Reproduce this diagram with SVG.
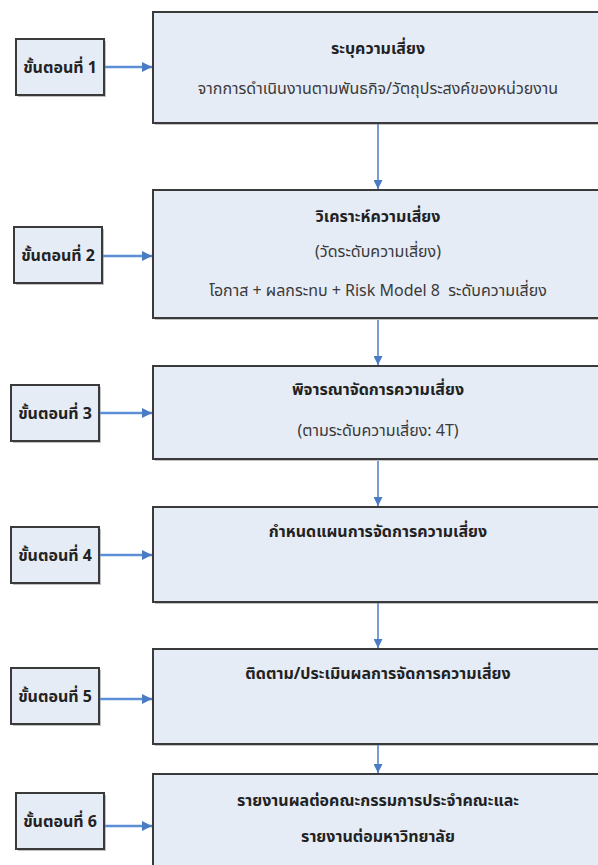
<svg xmlns="http://www.w3.org/2000/svg" width="598" height="865" viewBox="0 0 598 865">
<defs>
<style>
.box{fill:#e6ecf6;stroke:#3a3a3a;stroke-width:2}
.sh{fill:#9a9a9a;opacity:0.6}
.t{font-family:"Noto Sans Thai","Noto Sans","DejaVu Sans",sans-serif;font-size:16px;fill:#3a3a3a;text-anchor:middle}
.b{font-weight:bold;fill:#222}
.step{font-family:"Noto Sans Thai","Noto Sans","DejaVu Sans",sans-serif;font-size:16px;font-weight:bold;fill:#222;text-anchor:middle}
.h{stroke:#5b8ed4;stroke-width:2.5;fill:none}
.v{stroke:#4a7cc4;stroke-width:1.5;fill:none}
</style>
<marker id="ah" viewBox="0 0 10 10" refX="10" refY="5" markerWidth="4" markerHeight="4" orient="auto" markerUnits="strokeWidth"><path d="M0,0 L10,5 L0,10 z" fill="#4a7cc4"/></marker>
<marker id="av" viewBox="0 0 10 10" refX="10" refY="5" markerWidth="6" markerHeight="6" orient="auto" markerUnits="strokeWidth"><path d="M0,0 L10,5 L0,10 z" fill="#4a7cc4"/></marker>
</defs>
<rect width="598" height="865" fill="#fff"/>
<g id="box1"><rect class="sh" x="155" y="14" width="450" height="111"/><rect class="box" x="153" y="12" width="450" height="111"/>
<text class="t b" x="378" y="54">ระบุความเสี่ยง</text>
<text class="t" x="378" y="94">จากการดำเนินงานตามพันธกิจ/วัตถุประสงค์ของหน่วยงาน</text></g>
<g id="box2"><rect class="sh" x="155" y="192" width="450" height="128"/><rect class="box" x="153" y="190" width="450" height="128"/>
<text class="t b" x="378" y="222">วิเคราะห์ความเสี่ยง</text>
<text class="t" x="378" y="257">(วัดระดับความเสี่ยง)</text>
<text class="t" x="378" y="296">โอกาส + ผลกระทบ + Risk Model 8&#160; ระดับความเสี่ยง</text></g>
<g id="box3"><rect class="sh" x="155" y="368" width="450" height="93"/><rect class="box" x="153" y="366" width="450" height="93"/>
<text class="t b" x="378" y="395">พิจารณาจัดการความเสี่ยง</text>
<text class="t" x="378" y="436">(ตามระดับความเสี่ยง: 4T)</text></g>
<g id="box4"><rect class="sh" x="155" y="509" width="450" height="95"/><rect class="box" x="153" y="507" width="450" height="95"/>
<text class="t b" x="378" y="537">กำหนดแผนการจัดการความเสี่ยง</text></g>
<g id="box5"><rect class="sh" x="155" y="651" width="450" height="95"/><rect class="box" x="153" y="649" width="450" height="95"/>
<text class="t b" x="378" y="679">ติดตาม/ประเมินผลการจัดการความเสี่ยง</text></g>
<g id="box6"><rect class="sh" x="155" y="776" width="450" height="100"/><rect class="box" x="153" y="774" width="450" height="100"/>
<text class="t b" x="378" y="806">รายงานผลต่อคณะกรรมการประจำคณะและ</text>
<text class="t b" x="378" y="842">รายงานต่อมหาวิทยาลัย</text></g>
<g id="step1"><rect class="sh" x="18" y="41" width="88" height="56"/><rect class="box" x="16" y="39" width="88" height="56"/><text class="step" x="60" y="73">ขั้นตอนที่ 1</text></g>
<g id="step2"><rect class="sh" x="16" y="229" width="88" height="56"/><rect class="box" x="14" y="227" width="88" height="56"/><text class="step" x="58" y="261">ขั้นตอนที่ 2</text></g>
<g id="step3"><rect class="sh" x="13" y="387" width="88" height="56"/><rect class="box" x="11" y="385" width="88" height="56"/><text class="step" x="55" y="419">ขั้นตอนที่ 3</text></g>
<g id="step4"><rect class="sh" x="13" y="529" width="88" height="56"/><rect class="box" x="11" y="527" width="88" height="56"/><text class="step" x="55" y="561">ขั้นตอนที่ 4</text></g>
<g id="step5"><rect class="sh" x="13" y="670" width="88" height="56"/><rect class="box" x="11" y="668" width="88" height="56"/><text class="step" x="55" y="702">ขั้นตอนที่ 5</text></g>
<g id="step6"><rect class="sh" x="18" y="795" width="88" height="56"/><rect class="box" x="16" y="793" width="88" height="56"/><text class="step" x="60" y="827">ขั้นตอนที่ 6</text></g>
<g id="connectors">
<line class="h" x1="105" y1="67" x2="152" y2="67" marker-end="url(#ah)"/>
<line class="h" x1="103" y1="256" x2="152" y2="256" marker-end="url(#ah)"/>
<line class="h" x1="100" y1="413" x2="152" y2="413" marker-end="url(#ah)"/>
<line class="h" x1="100" y1="555" x2="152" y2="555" marker-end="url(#ah)"/>
<line class="h" x1="100" y1="699" x2="152" y2="699" marker-end="url(#ah)"/>
<line class="h" x1="105" y1="826" x2="152" y2="826" marker-end="url(#ah)"/>
<line class="v" x1="378" y1="124" x2="378" y2="189" marker-end="url(#av)"/>
<line class="v" x1="378" y1="320" x2="378" y2="365" marker-end="url(#av)"/>
<line class="v" x1="378" y1="461" x2="378" y2="506" marker-end="url(#av)"/>
<line class="v" x1="378" y1="603" x2="378" y2="648" marker-end="url(#av)"/>
<line class="v" x1="378" y1="745" x2="378" y2="773" marker-end="url(#av)"/>
</g>
</svg>
